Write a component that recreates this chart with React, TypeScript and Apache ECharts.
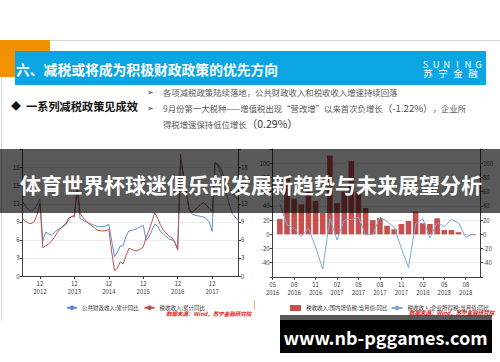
import React, { useEffect, useRef } from 'react';
import * as echarts from 'echarts';

function monthRange(sy: number, sm: number, ey: number, em: number): string[] {
  const out: string[] = [];
  let y = sy, m = sm;
  while (y < ey || (y === ey && m <= em)) {
    out.push(`${y}-${m < 10 ? '0' + m : m}`);
    m++;
    if (m > 12) { m = 1; y++; }
  }
  return out;
}

// Left chart: 2012-06 .. 2018-09, cumulative YoY (%)
const leftMonths = monthRange(2012, 6, 2018, 9);
const publicRevenueYoY = [
  12.3, 11.6, 11.0, 10.8, 11.1, 11.8, 12.8,
  5.8, 7.3, 7.0, 6.8, 7.2, 7.6, 7.9, 8.2, 8.5, 9.3, 9.9, 10.1,
  14.6, 9.5, 9.3, 9.0, 8.8, 8.6, 8.4, 8.2, 8.2, 8.2, 8.3, 8.6,
  5.8, 3.2, 4.0, 5.0, 5.0, 6.6, 7.5, 7.6, 7.7, 7.9, 8.2, 8.4,
  5.9, 6.5, 7.6, 8.6, 8.3, 7.4, 7.0, 6.5, 6.1, 6.0, 5.7, 4.5,
  19.0, 16.5, 13.7, 11.0, 10.3, 10.1, 10.0, 9.9, 9.8, 9.5, 9.0, 7.4,
  18.7, 18.3, 17.0, 15.4, 13.6, 11.8, 10.4, 9.8, 9.2,
];
const taxRevenueYoY = [
  9.5, 9.1, 8.8, 8.7, 9.0, 10.2, 12.1,
  4.7, 5.0, 5.3, 5.8, 6.4, 7.2, 7.8, 8.3, 8.7, 9.6, 9.9, 9.8,
  14.8, 10.4, 9.7, 9.2, 8.7, 8.4, 8.0, 7.6, 7.5, 7.5, 7.5, 7.8,
  4.0, 0.9, 1.3, 2.4, 2.0, 3.4, 4.6, 4.4, 4.2, 4.2, 4.5, 4.8,
  6.4, 7.6, 9.0, 10.5, 9.6, 8.5, 7.6, 7.1, 6.6, 6.4, 5.6, 4.3,
  20.2, 16.8, 13.9, 11.0, 10.6, 11.0, 11.4, 11.9, 12.2, 11.8, 11.2, 10.7,
  18.9, 18.6, 17.8, 16.6, 15.5, 14.6, 13.9, 13.2, 12.7,
];

// Right chart: 2016-05 .. 2018-10, monthly YoY (%)
const rightMonths = monthRange(2016, 5, 2018, 10);
const vatMonthlyYoY = [
  null, 21.5, 80, 50, 42, 62, 47, 30, 111, 44, 60, 103, 60, 37, 20,
  23, 12, 7, 14.5, 18.7, 32, 15.5, 14.5, 22.5, 6, 6, 3, 0.5, -1.22, null,
];
const citMonthlyYoY = [
  null, 43, 13, 8.4, -3.3, 8.5, -18, -49, 22.5, -8, 20, 21, 24, -1, 0,
  24, 18, 10, -20, -47, 15, 22, -5, 16, 11, 21, 16, -4, 0.3, null,
];

const leftSeriesNames = ['公共财政收入:累计同比', '税收收入:累计同比'];
const rightSeriesNames = ['税收收入:国内增值税:当月值:同比', '税收收入:企业所得税:当月值:同比'];

const F = '"Noto Sans CJK SC", "Noto Sans", sans-serif';
const AX = '#404040';
const LBL = '#404040';

function txt(text: string, x: number, y: number, size: number, fill: string, extra: any = {}, z = 10) {
  const align = extra.align || 'left';
  return {
    type: 'text', x, y, z, silent: true,
    style: {
      text, fontSize: size, fontFamily: F, fill,
      align, textAlign: align, verticalAlign: 'middle', textVerticalAlign: 'middle',
      fontWeight: extra.weight || 'normal', fontStyle: extra.style || 'normal',
      rich: extra.rich,
    },
  };
}

export default function App() {
  const ref = useRef<HTMLDivElement>(null);
  useEffect(() => {
    const chart = echarts.init(ref.current!, null, { renderer: 'svg' });
    const isDec = (i: number) => leftMonths[i].endsWith('-12');
    const ymd = (v: string) => v.slice(5) + '\n' + v.slice(0, 4);
    const yAxisCommon = {
      axisLine: { show: true, lineStyle: { color: AX, width: 1 } },
      axisTick: { show: true, length: 3, lineStyle: { color: AX } },
      axisLabel: { fontSize: 6, color: LBL, fontFamily: F, margin: 3 },
    };
    const graphics: any[] = [
      { type: 'line', z: 1, silent: true, shape: { x1: 0, y1: 40.5, x2: 500, y2: 40.5 }, style: { stroke: '#d4d4d4', lineWidth: 1 } },
      { type: 'line', z: 1, silent: true, shape: { x1: 1.5, y1: 40, x2: 1.5, y2: 321 }, style: { stroke: '#dadada', lineWidth: 1 } },
      { type: 'rect', z: 2, silent: true, shape: { x: 0, y: 40, width: 50, height: 37 }, style: { fill: '#f39200' } },
      { type: 'rect', z: 3, silent: true, shape: { x: 15, y: 51, width: 471, height: 34 }, style: { fill: '#0aa6e4' } },
      txt('六、减税或将成为积极财政政策的优先方向', 16, 69, 13.8, '#ffffff', { weight: 'bold' }),
      ...'SUNING'.split('').map((c, i) => txt(c, 425.5 + i * 10.6, 63.5, 9.5, '#ffffff', { align: 'center' })),
      ...'苏宁金融'.split('').map((c, i) => txt(c, 428 + i * 15, 73, 9.5, '#ffffff', { align: 'center' })),
      txt('◆', 11, 105.5, 10, '#111111'),
      txt('一系列减税政策见成效', 26, 105.5, 11.2, '#111111', { weight: 'bold' }),
      txt('➢', 147, 91.5, 8, '#333333'),
      txt('➢', 147, 107.5, 8, '#333333'),
      txt('各项减税政策陆续落地，公共财政收入和税收收入增速持续回落', 163, 91.7, 8.4, '#595959'),
      txt('9月份第一大税种——增值税出现“营改增”以来首次负增长{n|（-1.22%）}，企业所', 163, 107.5, 8.4, '#595959', { rich: { n: { fontSize: 9.6, fill: '#4a4a4a', fontFamily: F } } }),
      txt('得税增速保持低位增长{n|（0.29%）}', 163, 123.5, 8.4, '#595959', { rich: { n: { fontSize: 10.5, fill: '#333333', fontFamily: F } } }),
      txt('数据来源：Wind，苏宁金融研究院', 166, 314.3, 5.5, '#e21a1a', { style: 'italic', weight: 'bold' }),
      txt('数据来源：Wind，苏宁金融研究院', 409, 312.7, 5.5, '#e21a1a', { style: 'italic', weight: 'bold' }),
      { type: 'line', z: 1, silent: true, shape: { x1: 254.5, y1: 300, x2: 254.5, y2: 310 }, style: { stroke: '#f3c070', lineWidth: 1 } },
      // overlay band & headline
      { type: 'rect', z: 100, silent: true, shape: { x: 0, y: 149, width: 500, height: 64 }, style: { fill: 'rgba(0,0,0,0.65)' } },
      txt('体育世界杯球迷俱乐部发展新趋势与未来展望分析', 251, 183.5, 21, '#ffffff', { weight: 'bold', align: 'center' }, 101),
      // watermark box
      { type: 'rect', z: 100, silent: true, shape: { x: 280, y: 315, width: 212, height: 5 }, style: { fill: 'rgba(0,0,0,0.65)' } },
      { type: 'rect', z: 100, silent: true, shape: { x: 280, y: 320, width: 212, height: 33 }, style: { fill: '#000000' } },
      txt('www.nb-pggames.com', 385.5, 337, 18, '#ffffff', { weight: 'bold', align: 'center' }, 101),
    ];

    const option: any = {
      animation: false,
      backgroundColor: '#ffffff',
      textStyle: { fontFamily: F },
      grid: [
        { left: 22.7, top: 149.6, width: 215.3, height: 126.4 },
        { left: 272.7, top: 149.1, width: 207.3, height: 127.8 },
      ],
      legend: [
        {
          left: 61, top: 300, itemWidth: 10, itemHeight: 6, itemGap: 5,
          textStyle: { fontSize: 5.5, color: '#333', fontFamily: F },
          data: leftSeriesNames,
        },
        {
          left: 285, top: 300, itemWidth: 11, itemHeight: 6, itemGap: 3,
          textStyle: { fontSize: 5.5, color: '#333', fontFamily: F },
          data: [{ name: rightSeriesNames[0], icon: 'rect' }, { name: rightSeriesNames[1] }],
        },
      ],
      xAxis: [
        {
          type: 'category', gridIndex: 0, data: leftMonths, boundaryGap: false,
          axisLine: { lineStyle: { color: AX, width: 1 } },
          axisTick: { show: true, length: 3, interval: (i: number) => isDec(i), lineStyle: { color: AX } },
          axisLabel: { interval: (i: number) => isDec(i), formatter: ymd, fontSize: 6, color: LBL, lineHeight: 7.5, margin: 4, fontFamily: F },
          splitLine: { show: false },
        },
        {
          type: 'category', gridIndex: 1, data: rightMonths, boundaryGap: false,
          axisLine: { onZero: false, lineStyle: { color: AX, width: 1 } },
          axisTick: { show: true, length: 3, interval: 2, lineStyle: { color: AX } },
          axisLabel: { interval: 2, formatter: ymd, fontSize: 6, color: LBL, lineHeight: 7.5, margin: 4, fontFamily: F },
          splitLine: { show: false },
        },
      ],
      yAxis: [
        {
          ...yAxisCommon, type: 'value', gridIndex: 0, position: 'left', min: 0, max: 21, interval: 3,
          axisLabel: { ...yAxisCommon.axisLabel, formatter: (v: number) => (v === 21 ? '' : String(v)) },
          splitLine: { show: true, lineStyle: { color: '#ececec', width: 1 } },
        },
        {
          ...yAxisCommon, type: 'value', gridIndex: 0, position: 'right', min: 0, max: 21, interval: 3,
          axisLabel: { ...yAxisCommon.axisLabel, formatter: (v: number) => (v === 21 ? '' : String(v)) },
          splitLine: { show: false },
        },
        {
          ...yAxisCommon, type: 'value', gridIndex: 1, position: 'left', min: -60, max: 120, interval: 20,
          axisLabel: { ...yAxisCommon.axisLabel, formatter: (v: number) => (v === -60 || v === 120 ? '' : String(v)) },
          splitLine: { show: true, lineStyle: { color: '#ececec', width: 1 } },
        },
        {
          ...yAxisCommon, type: 'value', gridIndex: 1, position: 'right', min: -60, max: 120, interval: 20,
          axisLabel: { ...yAxisCommon.axisLabel, formatter: (v: number) => (v === -60 || v === 120 ? '' : String(v)) },
          splitLine: { show: false },
        },
      ],
      series: [
        {
          name: leftSeriesNames[0], type: 'line', xAxisIndex: 0, yAxisIndex: 0, data: publicRevenueYoY,
          symbol: 'none', lineStyle: { color: '#5b8fd0', width: 1 }, itemStyle: { color: '#5b8fd0' },
        },
        {
          name: leftSeriesNames[1], type: 'line', xAxisIndex: 0, yAxisIndex: 0, data: taxRevenueYoY,
          symbol: 'none', lineStyle: { color: '#c0504d', width: 1 }, itemStyle: { color: '#c0504d' },
        },
        {
          name: rightSeriesNames[0], type: 'bar', xAxisIndex: 1, yAxisIndex: 2, data: vatMonthlyYoY,
          barWidth: 5.6, itemStyle: { color: '#c94f4d' },
        },
        {
          name: rightSeriesNames[1], type: 'line', xAxisIndex: 1, yAxisIndex: 2, data: citMonthlyYoY,
          symbol: 'none', lineStyle: { color: '#7ba7dc', width: 1 }, itemStyle: { color: '#7ba7dc' },
        },
      ],
      graphic: { elements: graphics },
    };
    chart.setOption(option);
    return () => chart.dispose();
  }, []);
  return (
    <div
      ref={ref}
      style={{ position: 'fixed', left: 0, top: 0, width: 500, height: 362, background: '#fff' }}
    />
  );
}
